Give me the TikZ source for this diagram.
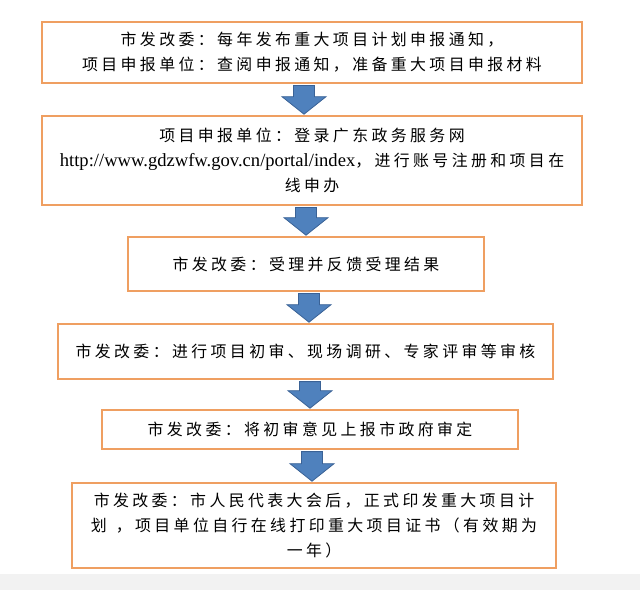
\documentclass[tikz,border=0pt]{standalone}
\usepackage{fontspec}
\setmainfont{Noto Sans CJK SC}
\newfontfamily\urlfont{Liberation Serif}
\usetikzlibrary{calc}
\definecolor{boxorange}{RGB}{239,159,97}
\definecolor{arrowblue}{RGB}{79,129,189}
\definecolor{arrowedge}{RGB}{58,98,150}
\definecolor{bandgray}{RGB}{242,242,242}
% spacing between CJK characters
\XeTeXinterchartokenstate=1
\chardef\cjkcls=7
\newcount\cjkc
\cjkc="3000
\loop \XeTeXcharclass\cjkc=\cjkcls \ifnum\cjkc<"9FFF \advance\cjkc by 1 \repeat
\cjkc="FF00
\loop \XeTeXcharclass\cjkc=\cjkcls \ifnum\cjkc<"FFEF \advance\cjkc by 1 \repeat
\newdimen\cjkgap \cjkgap=3.4pt
\XeTeXinterchartoks\cjkcls\cjkcls={\hskip\cjkgap\relax}
\newcommand\bluedown[3]{%
  \path[bluearrow] let \p1=(#2.south), \p2=(#3.north) in
    (#1pt-10.5pt,\y1-1.3pt) -- (#1pt+10.5pt,\y1-1.3pt) -- (#1pt+10.5pt,\y2+18pt)
    -- (#1pt+22pt,\y2+18pt) -- (#1pt,\y2+0.5pt) -- (#1pt-22pt,\y2+18pt)
    -- (#1pt-10.5pt,\y2+18pt) -- cycle;}
\begin{document}
\begin{tikzpicture}[x=1pt,y=1pt,
  stepbox/.style={draw=boxorange, line width=2.6pt, fill=white, inner sep=0pt,
    align=center, font=\fontsize{15.9}{25}\selectfont},
  bluearrow/.style={fill=arrowblue, draw=arrowedge, line width=0.8pt, line join=miter}]
\useasboundingbox (0,0) rectangle (640,590);
\fill[white] (0,0) rectangle (640,590);
\fill[bandgray] (0,0) rectangle (640,16);
\node[stepbox, minimum width=540pt, minimum height=61pt] (b1) at (312,537.5)
  {市发改委：每年发布重大项目计划申报通知，\\项目申报单位：查阅申报通知，准备重大项目申报材料};
\node[stepbox, minimum width=540pt, minimum height=89pt] (b2) at (312,429.5)
  {项目申报单位：登录广东政务服务网\\{\urlfont\fontsize{18.6}{25}\selectfont http://www.gdzwfw.gov.cn/portal/index}，进行账号注册和项目在\\线申办};
\node[stepbox, minimum width=356pt, minimum height=54pt] (b3) at (306,326)
  {市发改委：受理并反馈受理结果};
\node[stepbox, minimum width=495pt, minimum height=55pt] (b4) at (305.5,238.5)
  {市发改委：进行项目初审、现场调研、专家评审等审核};
\node[stepbox, minimum width=416pt, minimum height=39pt] (b5) at (310,160.5)
  {市发改委：将初审意见上报市政府审定};
\node[stepbox, minimum width=484pt, minimum height=85pt] (b6) at (314,64.5)
  {市发改委：市人民代表大会后，正式印发重大项目计\\划\hspace{9pt}，项目单位自行在线打印重大项目证书（有效期为\\一年）};
\bluedown{304}{b1}{b2}
\bluedown{306}{b2}{b3}
\bluedown{309}{b3}{b4}
\bluedown{310}{b4}{b5}
\bluedown{312}{b5}{b6}
\end{tikzpicture}
\end{document}
